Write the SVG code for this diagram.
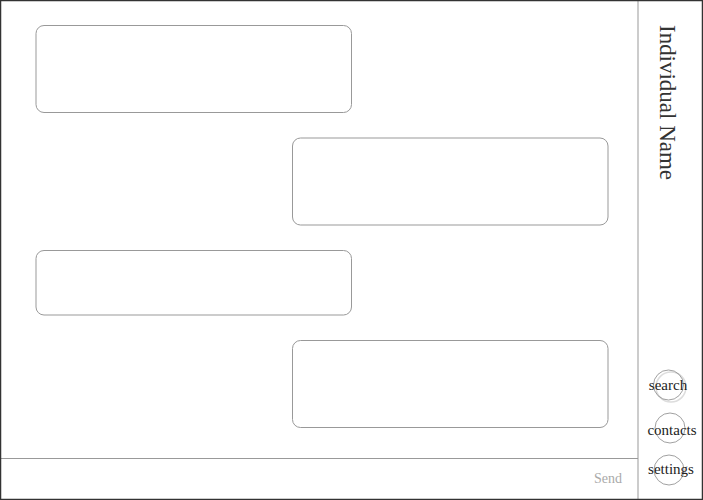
<svg xmlns="http://www.w3.org/2000/svg" width="703" height="500" viewBox="0 0 703 500">
<style>
.msg{fill:#fff;stroke:#999;stroke-width:1}
.line{stroke:#999;stroke-width:1;fill:none}
.nav{fill:none;stroke:#888;stroke-width:0.8}
.navt{font-family:"Liberation Serif",serif;font-size:15px;fill:#222;text-anchor:middle}
</style>
<rect x="0" y="0" width="703" height="500" fill="#fff"/>
<g id="connectors"></g>
<g id="msg1"><rect class="msg" x="36" y="25.5" width="315.5" height="87" rx="8"/></g>
<g id="msg2"><rect class="msg" x="292.5" y="138" width="315.5" height="87" rx="8"/></g>
<g id="msg3"><rect class="msg" x="36" y="250.5" width="315.5" height="64.5" rx="8"/></g>
<g id="msg4"><rect class="msg" x="292.5" y="340.5" width="315.5" height="87" rx="8"/></g>
<g id="dividers">
<line class="line" x1="638" y1="0" x2="638" y2="500"/>
<line class="line" x1="0" y1="458.5" x2="638" y2="458.5"/>
</g>
<g id="title"><text transform="translate(660,25) rotate(90)" font-family="Liberation Serif, serif" font-size="23" fill="#333" textLength="155" lengthAdjust="spacingAndGlyphs">Individual Name</text></g>
<g id="send"><text x="622" y="483" font-family="Liberation Serif, serif" font-size="14" fill="#aaa" text-anchor="end">Send</text></g>
<g id="search">
<circle cx="671" cy="387" r="15" fill="none" stroke="#ddd" stroke-width="1.5"/>
<circle class="nav" cx="668.5" cy="385" r="15"/>
<text class="navt" x="668" y="390">search</text>
</g>
<g id="contacts">
<circle class="nav" cx="670" cy="428" r="15"/>
<text class="navt" x="672" y="435">contacts</text>
</g>
<g id="settings">
<circle class="nav" cx="669" cy="470" r="15"/>
<text class="navt" x="671" y="474">settings</text>
</g>
<rect x="0.5" y="0.5" width="702" height="499" fill="none" stroke="#333" stroke-width="1.5"/>
</svg>
